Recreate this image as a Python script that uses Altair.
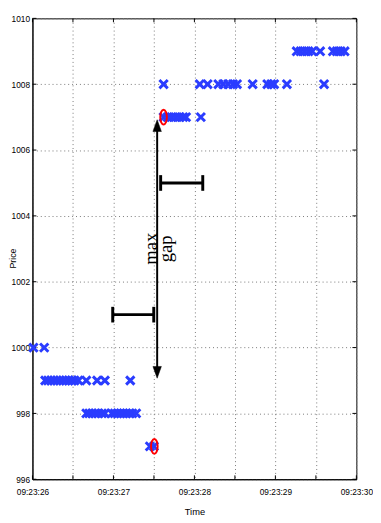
import altair as alt
import pandas as pd

# seconds within minute 09:23
t1000 = [26.012, 26.145]
t999 = [26.157, 26.193, 26.230, 26.266, 26.302, 26.338, 26.375, 26.411, 26.447, 26.483,
        26.520, 26.568, 26.665, 26.798, 26.894, 27.208]
t998 = [26.665, 26.701, 26.737, 26.773, 26.810, 26.858, 26.894,
        26.979, 27.015, 27.051, 27.088, 27.124, 27.160, 27.196, 27.233, 27.281]
t997 = [27.450, 27.500]
t1007 = [27.619, 27.668, 27.716, 27.764, 27.813, 27.861, 27.897, 28.079]
t1008 = [27.619, 28.066, 28.163, 28.296, 28.356, 28.417, 28.477, 28.526, 28.719,
         28.900, 28.949, 28.985, 29.142, 29.601]
t1009 = [29.263, 29.311, 29.360, 29.408, 29.456, 29.553, 29.710, 29.758, 29.807, 29.855]

circle_t = [27.505, 27.619]
circle_p = [997, 1007]

arrow_t = 27.54
arrow_low = 999.07
arrow_high = 1006.92

bar_p = [1001, 1005]
bar_t1 = [26.991, 27.583]
bar_t2 = [27.498, 28.103]

label_text = ["max", "gap"]
label_t = [27.46, 27.645]
label_p = [1003.0, 1003.0]

x_ticks = [26, 26.5, 27, 27.5, 28, 28.5, 29, 29.5, 30]
y_ticks = [996, 998, 1000, 1002, 1004, 1006, 1008, 1010]

W, H = 331, 471
XS = alt.Scale(domain=[26, 30], nice=False, zero=False)
YS = alt.Scale(domain=[996, 1010], nice=False, zero=False)
FONT = "'Liberation Sans Narrow', 'Liberation Sans', Arial, sans-serif"

XAX = alt.Axis(values=x_ticks, grid=True, ticks=False,
               labelExpr="datum.value % 1 == 0 ? '09:23:' + datum.value : ''",
               labelFont=FONT, labelFontSize=8.5, labelColor="black",
               labelPadding=9, titleFont=FONT, titleFontSize=9.5,
               titleFontWeight="normal", titleY=33, titleBaseline="middle",
               titleColor="black",
               gridDash=[1, 3], gridColor="#777", gridWidth=1,
               domainColor="black", labelFlush=False, labelOverlap=False)
YAX = alt.Axis(values=y_ticks, grid=True, ticks=False, format="d",
               labelFont=FONT, labelFontSize=8.5, labelColor="black",
               labelPadding=3, titleFont=FONT, titleFontSize=9,
               titleFontWeight="normal", titleX=-20, titleY=245,
               titleAngle=270, titleBaseline="middle", titleColor="black",
               gridDash=[1, 3], gridColor="#777", gridWidth=1,
               domainColor="black", labelOverlap=False)

X = alt.X("t:Q", scale=XS, title="Time", axis=XAX)
Y = alt.Y("p:Q", scale=YS, title="Price", axis=YAX)

rows = []
for p, ts in [(1000, t1000), (999, t999), (998, t998), (997, t997),
              (1007, t1007), (1008, t1008), (1009, t1009)]:
    for t in ts:
        rows.append({"t": t, "p": p})
pts = pd.DataFrame(rows)

crosses = alt.Chart(pts).mark_point(
    shape="M-1,-1L1,1M-1,1L1,-1", size=72, filled=False,
    stroke="#2a3cff", strokeWidth=3, opacity=1
).encode(x=X, y=Y)

circ = pd.DataFrame({"t": circle_t, "p": circle_p})
circles = alt.Chart(circ).mark_point(
    shape="M0,-1A0.45,1,0,1,1,0,1A0.45,1,0,1,1,0,-1Z", size=225, filled=False,
    stroke="#ff0000", strokeWidth=2, opacity=1
).encode(x=X, y=Y)

arr = pd.DataFrame({"t": [arrow_t], "p": [arrow_low + 0.3], "p2": [arrow_high - 0.3]})
arrow_line = alt.Chart(arr).mark_rule(color="black", strokeWidth=2).encode(
    x=X, y=Y, y2="p2:Q")
heads = pd.DataFrame({"t": [arrow_t], "p": [arrow_high]})
head_up = alt.Chart(heads).mark_point(
    shape="M0,0L-0.36,1L0.36,1Z", size=576, filled=True, fill="black",
    stroke="black", strokeWidth=0.5, opacity=1).encode(x=X, y=Y)
tails = pd.DataFrame({"t": [arrow_t], "p": [arrow_low]})
head_down = alt.Chart(tails).mark_point(
    shape="M0,0L-0.36,-1L0.36,-1Z", size=576, filled=True, fill="black",
    stroke="black", strokeWidth=0.5, opacity=1).encode(x=X, y=Y)

bars = pd.DataFrame({"t": bar_t1, "t2": bar_t2, "p": bar_p})
bar_lines = alt.Chart(bars).mark_rule(color="black", strokeWidth=3).encode(
    x=X, x2="t2:Q", y=Y)
caps = pd.DataFrame({"t": bar_t1 + bar_t2, "p": bar_p + bar_p})
bar_caps = alt.Chart(caps).mark_tick(
    orient="vertical", size=16, thickness=3, color="black", opacity=1
).encode(x=X, y=Y)

lab = pd.DataFrame({"t": label_t, "p": label_p, "s": label_text})
labels = alt.Chart(lab).mark_text(
    angle=270, font="'Liberation Serif', 'DejaVu Serif', serif", fontSize=19,
    align="center", baseline="middle", color="black"
).encode(x=X, y=Y, text="s:N")

yt = pd.DataFrame({"p": y_ticks})
xt = pd.DataFrame({"t": x_ticks})
tick_l = alt.Chart(yt).mark_rule(color="black", strokeWidth=1).encode(
    y=Y, x=alt.value(0), x2=alt.value(4))
tick_r = alt.Chart(yt).mark_rule(color="black", strokeWidth=1).encode(
    y=Y, x=alt.value(W - 4), x2=alt.value(W))
tick_b = alt.Chart(xt).mark_rule(color="black", strokeWidth=1).encode(
    x=X, y=alt.value(H - 4), y2=alt.value(H))
tick_t = alt.Chart(xt).mark_rule(color="black", strokeWidth=1).encode(
    x=X, y=alt.value(0), y2=alt.value(4))

chart = alt.layer(
    tick_l, tick_r, tick_b, tick_t,
    bar_lines, bar_caps, arrow_line, head_up, head_down,
    crosses, circles, labels
).properties(
    width=W, height=H,
    autosize=alt.AutoSizeParams(type="none"),
    padding={"left": 25, "top": 5, "right": 17, "bottom": 34},
).configure_view(stroke="black", strokeWidth=1)

chart.save("out.html", embed_options={"renderer": "svg", "actions": False})
